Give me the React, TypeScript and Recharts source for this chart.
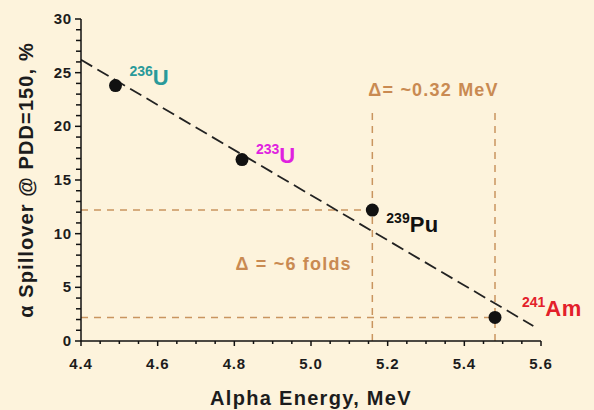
import {
  ComposedChart, Scatter, XAxis, YAxis, ReferenceLine, ReferenceDot, LabelList,
} from "recharts";

const energies = [4.49, 4.82, 5.16, 5.48];
const spillover = [23.8, 16.9, 12.2, 2.2];
const massNumbers = ["236", "233", "239", "241"];
const symbols = ["U", "U", "Pu", "Am"];
const labelColors = ["#2a9a9a", "#e021e0", "#111111", "#e3202a"];
const labelOffsets = [[14, -1], [14, 3], [14, 22], [27, -1]];

const xTicks = [
  4.4, 4.45, 4.5, 4.55, 4.6, 4.65, 4.7, 4.75, 4.8, 4.85, 4.9, 4.95, 5.0,
  5.05, 5.1, 5.15, 5.2, 5.25, 5.3, 5.35, 5.4, 5.45, 5.5, 5.55, 5.6,
];
const yTicks = [
  0, 1, 2, 3, 4, 5, 6, 7, 8, 9, 10, 11, 12, 13, 14, 15,
  16, 17, 18, 19, 20, 21, 22, 23, 24, 25, 26, 27, 28, 29, 30,
];

// fitted trend and guide lines
const fitStart = { x: 4.4, y: 26.2 };
const fitEnd = { x: 5.58, y: 1.4 };
const guideTop = 21.5;

const data = energies.map((x, i) => ({ x, y: spillover[i] }));

const FONT = "'Liberation Sans', Arial, sans-serif";
const ORANGE = "#c98a52";
const GUIDE = "#c9955f";

// eslint-disable-next-line @typescript-eslint/no-explicit-any
const XTick = (props: any) => {
  const v = props.payload.value;
  const major = Math.round(v * 100) % 20 === 0;
  return (
    <g>
      <line x1={props.x} x2={props.x} y1={props.y} y2={props.y + (major ? 5 : 3)} stroke="#111" strokeWidth={1.5} />
      {major && (
        <text x={props.x} y={props.y + 28} textAnchor="middle" fontFamily={FONT} fontWeight="bold"
          fontSize={15} letterSpacing={0.8} fill="#1c1c1c">
          {v.toFixed(1)}
        </text>
      )}
    </g>
  );
};

// eslint-disable-next-line @typescript-eslint/no-explicit-any
const YTick = (props: any) => {
  const v = props.payload.value;
  const major = v % 5 === 0;
  return (
    <g>
      <line x1={props.x - (major ? 6 : 5)} x2={props.x} y1={props.y} y2={props.y} stroke="#111" strokeWidth={1.5} />
      {major && (
        <text x={props.x - 9} y={props.y + 5} textAnchor="end" fontFamily={FONT} fontWeight="bold"
          fontSize={15} letterSpacing={0.8} fill="#1c1c1c">
          {v}
        </text>
      )}
    </g>
  );
};

// eslint-disable-next-line @typescript-eslint/no-explicit-any
const Dot = (props: any) => <circle cx={props.cx} cy={props.cy} r={6.5} fill="#111" />;

// eslint-disable-next-line @typescript-eslint/no-explicit-any
const IsotopeLabel = (props: any) => {
  const i = props.index;
  const [dx, dy] = labelOffsets[i];
  return (
    <text x={props.x + props.width / 2 + dx} y={props.y + props.height / 2 + dy}
      fontFamily={FONT} fontWeight="bold" fill={labelColors[i]}>
      <tspan fontSize={14} dy={-9}>{massNumbers[i]}</tspan>
      <tspan fontSize={22} dy={9} letterSpacing={0.5}>{symbols[i]}</tspan>
    </text>
  );
};

// eslint-disable-next-line @typescript-eslint/no-explicit-any
const note = (text: string) => (props: any) => {
  const vb = props.viewBox;
  return (
    <text x={vb.x} y={vb.y} textAnchor="middle" dominantBaseline="central"
      fontFamily={FONT} fontWeight="bold" fontSize={18} letterSpacing={1.2} fill={ORANGE}>
      {text}
    </text>
  );
};

export default function App() {
  return (
    <div style={{ position: "absolute", left: 0, top: 0, width: 594, height: 410, background: "#fdf3dc" }}>
      <ComposedChart width={594} height={410} data={data} margin={{ top: 19, right: 53, bottom: 39, left: 0 }}>
        <XAxis
          dataKey="x" type="number" domain={[4.4, 5.6]} ticks={xTicks} interval={0}
          axisLine={{ stroke: "#111", strokeWidth: 1.5 }} tickLine={false} tickSize={0} tickMargin={0}
          tick={<XTick />} height={30}
          label={{
            content: (p: any) => (
              <text x={p.viewBox.x + p.viewBox.width / 2} y={405} textAnchor="middle" fontFamily={FONT}
                fontWeight="bold" fontSize={20} letterSpacing={1.3} fill="#1c1c1c">
                Alpha Energy, MeV
              </text>
            ),
          }}
        />
        <YAxis
          dataKey="y" type="number" domain={[0, 30]} ticks={yTicks} interval={0}
          axisLine={{ stroke: "#111", strokeWidth: 1.5 }} tickLine={false} tickSize={0} tickMargin={0}
          tick={<YTick />} width={81}
          label={{
            content: (p: any) => {
              const cy = p.viewBox.y + p.viewBox.height / 2;
              return (
                <text x={26} y={cy} transform={`rotate(-90 26 ${cy})`} textAnchor="middle" dominantBaseline="central"
                  fontFamily={FONT} fontWeight="bold" fontSize={20} letterSpacing={1.1} fill="#1c1c1c">
                  α Spillover @ PDD=150, %
                </text>
              );
            },
          }}
        />
        <ReferenceLine segment={[{ x: 4.4, y: spillover[2] }, { x: energies[2], y: spillover[2] }]}
          stroke={GUIDE} strokeWidth={1.5} strokeDasharray="7 6" />
        <ReferenceLine segment={[{ x: 4.4, y: spillover[3] }, { x: energies[3], y: spillover[3] }]}
          stroke={GUIDE} strokeWidth={1.5} strokeDasharray="7 6" />
        <ReferenceLine segment={[{ x: energies[2], y: 0 }, { x: energies[2], y: guideTop }]}
          stroke={GUIDE} strokeWidth={1.5} strokeDasharray="7 6" />
        <ReferenceLine segment={[{ x: energies[3], y: 0 }, { x: energies[3], y: guideTop }]}
          stroke={GUIDE} strokeWidth={1.5} strokeDasharray="7 6" />
        <ReferenceLine segment={[fitStart, fitEnd]} stroke="#222" strokeWidth={1.8} strokeDasharray="13 6" />
        <ReferenceDot x={5.32} y={23.4} r={0.1} fill="none" stroke="none" label={{ content: note("Δ= ~0.32 MeV") }} />
        <ReferenceDot x={4.955} y={7.2} r={0.1} fill="none" stroke="none" label={{ content: note("Δ = ~6 folds") }} />
        <Scatter dataKey="y" fill="#111" shape={<Dot />} isAnimationActive={false}>
          <LabelList dataKey="y" content={<IsotopeLabel />} />
        </Scatter>
      </ComposedChart>
    </div>
  );
}
